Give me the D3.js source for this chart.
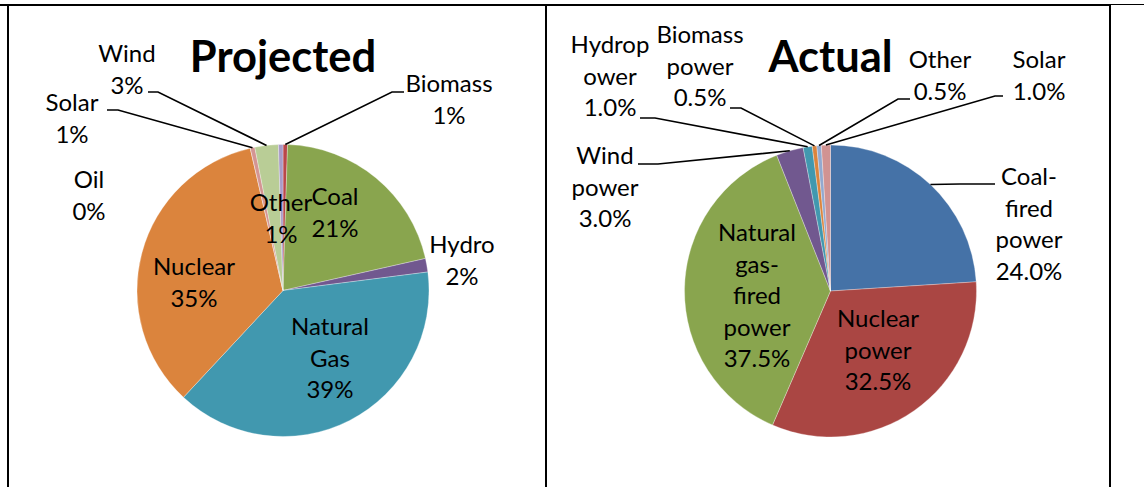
<!DOCTYPE html>
<html>
<head>
<meta charset="utf-8">
<script src="https://cdn.jsdelivr.net/npm/d3@7/dist/d3.min.js"></script>
<style>
  html, body { margin: 0; padding: 0; background: #fff; }
  svg { display: block; }
  text { font-family: Lato, "Noto Sans", sans-serif; fill: #000; }
</style>
</head>
<body>
<script>
// ---- data ----
const projectedNames = ["Biomass", "Coal", "Hydro", "Natural Gas", "Nuclear", "Oil", "Solar", "Wind", "Other"];
const projectedValues = [0.5, 21.0, 1.5, 39.0, 34.5, 0, 0.5, 2.6, 0.5];
const projectedColors = ["#B9474A", "#89A54E", "#71588F", "#4198AF", "#DB843D", "#3D6BA0", "#D49593", "#B9CD96", "#A99BC8"];

const actualNames = ["Coal-fired power", "Nuclear power", "Natural gas-fired power", "Wind power", "Hydropower", "Biomass power", "Other", "Solar"];
const actualValues = [24.0, 32.5, 37.5, 3.0, 1.0, 0.5, 0.5, 1.0];
const actualColors = ["#4572A7", "#AA4643", "#89A54E", "#71588F", "#4198AF", "#DB843D", "#93A9CF", "#D19392"];

// ---- layout: label centre x, first baseline y, wrap breaks, optional leader (start, elbow) ----
const projectedLayout = [
  { x: 449, y: 92, breaks: [], leader: [[404, 92], [392, 92]] },
  { x: 335, y: 205, breaks: [] },
  { x: 462, y: 253, breaks: [] },
  { x: 330, y: 335, breaks: [7] },
  { x: 194, y: 275, breaks: [] },
  { x: 89, y: 188, breaks: [] },
  { x: 72, y: 111, breaks: [], leader: [[107, 110], [118, 110]] },
  { x: 127, y: 62, breaks: [], leader: [[148, 92], [158, 92]] },
  { x: 281, y: 211, breaks: [] }
];
const actualLayout = [
  { x: 1029, y: 185, breaks: [5, 11], leader: [[995, 184], [960, 184]] },
  { x: 878, y: 327, breaks: [7] },
  { x: 757, y: 241, breaks: [7, 12, 17] },
  { x: 605, y: 164, breaks: [4], leader: [[638, 164], [658, 164]] },
  { x: 610, y: 53, breaks: [6], leader: [[640, 118], [655, 118]] },
  { x: 700, y: 43, breaks: [7], leader: [[730, 108], [741, 108]] },
  { x: 940, y: 68, breaks: [], leader: [[910, 99], [898, 99]] },
  { x: 1039, y: 68, breaks: [], leader: [[1003, 96], [995, 96]] }
];

const W = 1144, H = 487;
const lineH = 31.5;
const radius = 146;

const svg = d3.select("body").append("svg")
  .attr("width", W)
  .attr("height", H);

// table cell borders
const grid = svg.append("g").attr("stroke", "#000").attr("fill", "none");
grid.append("line").attr("x1", 0).attr("x2", 1111).attr("y1", 5).attr("y2", 5).attr("stroke-width", 2);
grid.append("line").attr("x1", 1111).attr("x2", W).attr("y1", 4.5).attr("y2", 4.5).attr("stroke-width", 1);
[8, 546, 1110].forEach(x => {
  grid.append("line").attr("x1", x).attr("x2", x).attr("y1", 4).attr("y2", H).attr("stroke-width", 2);
});

function splitName(name, breaks) {
  const cuts = [0, ...breaks, name.length];
  return d3.pairs(cuts).map(([a, b]) => name.slice(a, b).trim());
}

function drawPie({ cx, cy, title, names, values, colors, layout, fmt }) {
  const g = svg.append("g").attr("transform", `translate(${cx},${cy})`);

  const pie = d3.pie().sort(null).value(d => d);
  const arcs = pie(values);
  const arc = d3.arc().innerRadius(0).outerRadius(radius);
  const edge = d3.arc().innerRadius(radius).outerRadius(radius);

  g.selectAll("path.slice")
    .data(arcs)
    .join("path")
    .attr("class", "slice")
    .attr("d", arc)
    .attr("fill", (d, i) => colors[i])
    .attr("stroke", "#fff")
    .attr("stroke-width", 0.5)
    .attr("stroke-opacity", 0.6);

  // leader lines: label side -> elbow -> slice edge at mid angle
  arcs.forEach((d, i) => {
    const L = layout[i];
    if (!L.leader) return;
    const [ex, ey] = edge.centroid(d);
    const pts = [...L.leader, [cx + ex, cy + ey]];
    svg.append("path")
      .attr("d", d3.line()(pts))
      .attr("fill", "none")
      .attr("stroke", "#000")
      .attr("stroke-width", 1.6);
  });

  // labels
  arcs.forEach((d, i) => {
    const L = layout[i];
    const lines = [...splitName(names[i], L.breaks), fmt(values[i])];
    const t = svg.append("text")
      .attr("text-anchor", "middle")
      .attr("font-size", 24);
    lines.forEach((s, k) => {
      t.append("tspan").attr("x", L.x).attr("y", L.y + k * lineH).text(s);
    });
  });

  svg.append("text")
    .attr("x", cx)
    .attr("y", 72)
    .attr("text-anchor", "middle")
    .attr("font-size", 43.5)
    .attr("font-weight", "bold")
    .text(title);
}

drawPie({
  cx: 283, cy: 290.5, title: "Projected",
  names: projectedNames, values: projectedValues, colors: projectedColors,
  layout: projectedLayout, fmt: v => Math.round(v) + "%"
});
drawPie({
  cx: 830.5, cy: 291, title: "Actual",
  names: actualNames, values: actualValues, colors: actualColors,
  layout: actualLayout, fmt: v => d3.format(".1f")(v) + "%"
});
</script>
</body>
</html>
